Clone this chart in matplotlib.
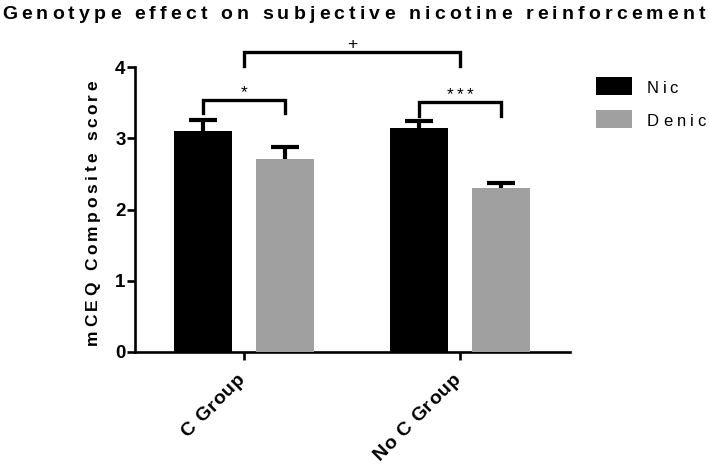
import numpy as np
import matplotlib
matplotlib.use("Agg")
import matplotlib.pyplot as plt
from matplotlib.patches import Rectangle
from matplotlib.transforms import IdentityTransform

# data
groups = ["C Group", "No C Group"]
series = ["Nic", "Denic"]
nic_mean = [3.10, 3.14]
nic_sem = [0.16, 0.10]
denic_mean = [2.71, 2.30]
denic_sem = [0.17, 0.07]
colors = ["#000000", "#a0a0a0"]
yticks = [0, 1, 2, 3, 4]

title = "Genotype effect on subjective nicotine reinforcement"
ylabel = "mCEQ Composite score"

plt.rcParams['font.family'] = ['Liberation Sans', 'DejaVu Sans']

fig = plt.figure(figsize=(7.09, 4.68), dpi=100)
ax = fig.add_axes([135 / 709, 116 / 468, (570 - 135) / 709, (352 - 67) / 468])


def spaced_text(s, x, y, width=None, track=0.0, rotation=0, ha='left', **kw):
    # text with letter spacing, x/y in pixels (display coords)
    r = fig.canvas.get_renderer()

    def w(t):
        tt = fig.text(0, 0, t + '|', transform=IdentityTransform(), **kw)
        ww = tt.get_window_extent(r).width
        tt.remove()
        return ww

    wbar = w('')
    adv = [w(s[:i]) - wbar for i in range(len(s) + 1)]
    if width is not None:
        track = (width - adv[-1]) / (len(s) - 1)
    total = adv[-1] + track * (len(s) - 1)
    start = {'left': 0, 'center': -total / 2, 'right': -total}[ha]
    a = np.deg2rad(rotation)
    for i, ch in enumerate(s):
        if ch == ' ':
            continue
        d = start + adv[i] + track * i
        fig.text(x + d * np.cos(a), y + d * np.sin(a), ch,
                 transform=IdentityTransform(), rotation=rotation,
                 rotation_mode='anchor', ha='left', va='baseline', **kw)


x = np.arange(len(groups))
bw = 0.27
off = 0.19
ax.bar(x - off, nic_mean, bw, color=colors[0], zorder=3)
ax.bar(x + off, denic_mean, bw, color=colors[1], zorder=3)

# upward-only error bars
for xs, m, e in [(x - off, nic_mean, nic_sem), (x + off, denic_mean, denic_sem)]:
    m = np.array(m)
    e = np.array(e)
    ax.vlines(xs, m - 0.02, m + e, color='black', lw=3.0, zorder=2)
    ax.plot(xs, m + e, ls='none', marker='_', ms=19.5, mew=3.0, color='black', zorder=2)

ax.set_xlim(-0.505, 1.509)
ax.set_ylim(0, 4)
ax.set_yticks(yticks)
ax.set_yticklabels([str(t) for t in yticks], fontsize=13.5, fontweight='bold')
ax.set_xticks(x)
ax.set_xticklabels([])
for side in ['top', 'right']:
    ax.spines[side].set_visible(False)
for side in ['left', 'bottom']:
    ax.spines[side].set_linewidth(1.9)
ax.tick_params(axis='both', length=5.8, width=1.9, color='black')
ax.tick_params(axis='y', pad=1)

# rotated group labels, ending at each tick
for xi, name in zip(x, groups):
    tx = ax.transData.transform((xi, 0))[0]
    spaced_text(name, tx + 1, 88, track=0.6, rotation=45, ha='right',
                fontsize=14, fontweight='bold')


def bracket(x1, x2, y_top, y_leg, label):
    ax.plot([x1, x1, x2, x2], [y_leg, y_top, y_top, y_leg], color='black',
            lw=2.4, clip_on=False, solid_joinstyle='miter')
    px, py = ax.transData.transform(((x1 + x2) / 2, y_top))
    spaced_text(label, px, py + 3, track=3.0, ha='center', fontsize=12.5)


bracket(-off, off, 3.54, 3.35, "*")
bracket(1 - off, 1 + off, 3.51, 3.31, "***")
bracket(0, 1, 4.21, 4.01, "+")

# title and axis label with letter spacing
spaced_text(title, 353.5, 449, width=703, ha='center', fontsize=14, fontweight='bold')
spaced_text(ylabel, 97, 255.5, width=265, rotation=90, ha='center', fontsize=12.5, fontweight='bold')

# legend
leg_y = [373, 340]
leg_w = [31, 59]
for i, name in enumerate(series):
    fig.add_artist(Rectangle((596, leg_y[i]), 36, 18, transform=IdentityTransform(),
                             facecolor=colors[i], edgecolor='none'))
    spaced_text(name, 647, leg_y[i] + 2, width=leg_w[i], fontsize=12)

fig.savefig("out.png", dpi=100)
